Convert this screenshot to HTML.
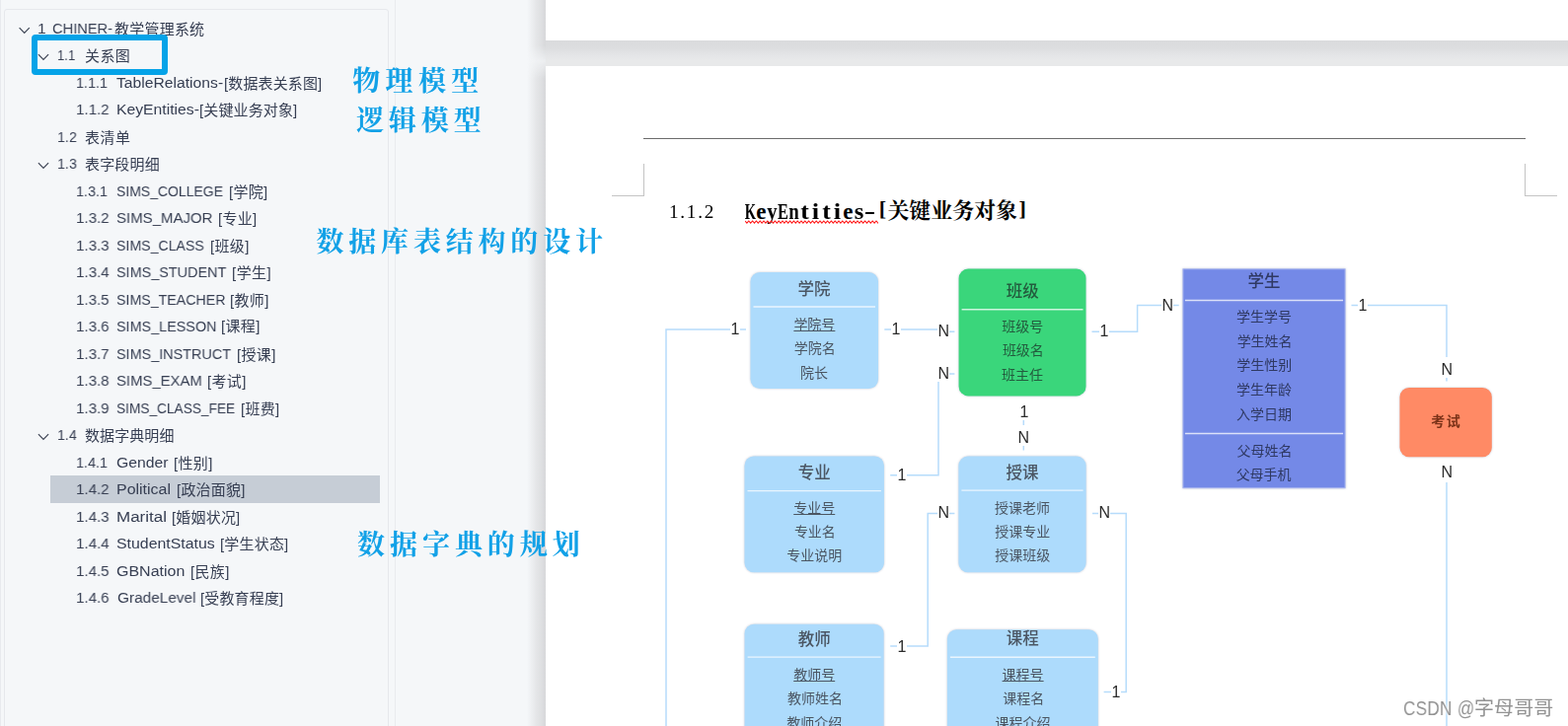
<!DOCTYPE html>
<html lang="zh-CN">
<head>
<meta charset="utf-8">
<title>CHINER-教学管理系统</title>
<style>
html,body{margin:0;padding:0;}
body{width:1589px;height:736px;overflow:hidden;position:relative;background:#f5f7f9;font-family:"Liberation Sans","Noto Sans CJK SC",sans-serif;}
.abs{position:absolute;}
/* left navigation panel */
#navline1{left:0;top:0;width:1px;height:736px;background:#e8eaee;}
#navbox{left:4px;top:9px;width:390px;height:740px;border:1px solid #e6e8ec;border-radius:3px;box-sizing:border-box;}
#navline2{left:400px;top:0;width:1px;height:736px;background:#e9ebee;}
.tx{position:absolute;height:40px;line-height:40px;font-size:15.5px;color:#363e52;white-space:pre;}
.tx{transform-origin:0 50%;will-change:transform;}
.tx.c{font-size:15px;}
#sel{left:51px;top:482px;width:334px;height:28px;background:#c6cdd6;}
#bluebox{left:32px;top:35px;width:138px;height:41px;border:6px solid #05a3e8;border-radius:4px;box-sizing:border-box;}
.note{position:absolute;color:#12a1e7;font-family:"Liberation Serif","Noto Serif CJK SC",serif;font-weight:700;font-size:28px;line-height:40px;height:40px;white-space:pre;z-index:20;}
/* document */
#shadow{left:534px;top:0;width:19px;height:736px;background:linear-gradient(to right,rgba(215,216,218,0),rgba(215,216,218,.5) 45%,rgba(215,216,218,1));-webkit-mask-image:linear-gradient(to bottom,#000 0,#000 46px,rgba(0,0,0,.3) 62px,#000 80px,#000 100%);mask-image:linear-gradient(to bottom,#000 0,#000 46px,rgba(0,0,0,.3) 62px,#000 80px,#000 100%);}
#gap{left:553px;top:41px;width:1036px;height:26px;background:linear-gradient(to bottom,#dadbdd 0,#dcdddf 28%,#e5e6e8 62%,#e8e9ea 80%,#e8e9ea 100%);}
#page1{left:553px;top:0;width:1036px;height:41px;background:#fff;}
#page2{left:553px;top:67px;width:1036px;height:669px;background:#fff;}
#hline{left:652px;top:140px;width:894px;height:1px;background:#6b6b6b;}
.crop{position:absolute;background:#c4c4c4;}
.hd{position:absolute;height:40px;line-height:40px;white-space:pre;color:#000;}
.hn{font:400 19.2px "Liberation Serif",serif;will-change:transform;}
.hl{font:700 22px "Liberation Serif",serif;}
.hc{font:700 22px "Liberation Serif","Noto Serif CJK SC",serif;}
.hd.hn,.hd.hl,.hd.hc,.hd.hm{line-height:40px;}
.hd.hm{font-size:23px;}
.hm i{display:inline-flex;justify-content:center;width:11px;font-style:normal;}
#wavy{left:755px;top:222.5px;}
/* diagram */
.et,.ef,.ek{position:absolute;z-index:5;line-height:40px;height:40px;white-space:pre;color:#4b5663;font:400 14px "Liberation Sans","Noto Sans CJK SC",sans-serif;line-height:40px;}
.et{font-size:16.5px;font-weight:500;}
#etext{position:absolute;left:0;top:0;width:1589px;height:736px;z-index:5;will-change:transform;}
.ek{font-size:14px;font-weight:700;letter-spacing:1.4px;}
.u{text-decoration:underline;}
.g{color:#235c3e;}
.p{color:#2f3963;}
.o{color:#7a3218;}
.lbl{position:absolute;z-index:6;font:16px "Liberation Sans",sans-serif;line-height:16px;height:16px;color:#2b2b2b;background:#fff;padding:5px 0.4px 0;white-space:pre;will-change:transform;}
.wm{position:absolute;font:20px "Liberation Sans","Noto Sans CJK SC",sans-serif;line-height:40px;height:40px;color:#939393;white-space:pre;text-shadow:0 0 2px #fff,0 0 2px #fff,0 0 3px #fff;z-index:30;will-change:transform;}
.wl{font-size:19.7px;transform:scaleX(.87);transform-origin:0 50%;}
</style>
</head>
<body>
<div class="abs" id="navline1"></div>
<div class="abs" id="navbox"></div>
<div class="abs" id="navline2"></div>
<div class="abs" id="sel"></div>
<div id="tree">
<div id="t0" class="tx" style="left:37.74px;top:8.9px">1</div>
<div id="t1" class="tx" style="left:52.54px;top:8.9px;transform:scaleX(0.943)">CHINER-</div>
<div id="t2" class="tx c" style="left:115.55px;top:9.6px;letter-spacing:0.22px">教学管理系统</div>
<div id="t3" class="tx" style="left:57.73px;top:36.3px;transform:scaleX(0.844)">1.1</div>
<div id="t4" class="tx c" style="left:86.03px;top:36.6px;letter-spacing:0.39px">关系图</div>
<div id="t5" class="tx" style="left:77.25px;top:64.3px;transform:scaleX(0.928)">1.1.1</div>
<div id="t6" class="tx" style="left:118px;top:64.3px;transform:scaleX(1.012)">TableRelations-</div>
<div id="t7" class="tx c" style="left:226.95px;top:64.65px;letter-spacing:0.13px">[数据表关系图]</div>
<div id="t8" class="tx" style="left:77.13px;top:91.3px;transform:scaleX(0.977)">1.1.2</div>
<div id="t9" class="tx" style="left:117.96px;top:91.3px;transform:scaleX(1.015)">KeyEntities-</div>
<div id="t10" class="tx c" style="left:202.45px;top:92.04px;letter-spacing:0.12px">[关键业务对象]</div>
<div id="t11" class="tx" style="left:57.76px;top:119.3px;transform:scaleX(0.923)">1.2</div>
<div id="t12" class="tx c" style="left:85.76px;top:119.6px;letter-spacing:0.46px">表清单</div>
<div id="t13" class="tx" style="left:58.02px;top:146.3px;transform:scaleX(0.922)">1.3</div>
<div id="t14" class="tx c" style="left:85.89px;top:146.6px;letter-spacing:0.18px">表字段明细</div>
<div id="t15" class="tx" style="left:77.25px;top:174.3px;transform:scaleX(0.928)">1.3.1</div>
<div id="t16" class="tx" style="left:118.13px;top:174.3px;transform:scaleX(0.902)">SIMS_COLLEGE</div>
<div id="t17" class="tx c" style="left:231.7px;top:175px;letter-spacing:0.26px">[学院]</div>
<div id="t18" class="tx" style="left:77.13px;top:201.3px;transform:scaleX(0.977)">1.3.2</div>
<div id="t19" class="tx" style="left:118.14px;top:201.3px;transform:scaleX(0.967)">SIMS_MAJOR</div>
<div id="t20" class="tx c" style="left:220.77px;top:201.74px;letter-spacing:0.26px">[专业]</div>
<div id="t21" class="tx" style="left:77.13px;top:229.3px;transform:scaleX(0.978)">1.3.3</div>
<div id="t22" class="tx" style="left:118.13px;top:229.3px;transform:scaleX(0.912)">SIMS_CLASS</div>
<div id="t23" class="tx c" style="left:212.85px;top:229.74px;letter-spacing:0.33px">[班级]</div>
<div id="t24" class="tx" style="left:76.73px;top:256.3px;transform:scaleX(0.979)">1.3.4</div>
<div id="t25" class="tx" style="left:118.13px;top:256.3px;transform:scaleX(0.93)">SIMS_STUDENT</div>
<div id="t26" class="tx c" style="left:235.35px;top:256.76px;letter-spacing:0.47px">[学生]</div>
<div id="t27" class="tx" style="left:77.25px;top:283.9px;transform:scaleX(0.976)">1.3.5</div>
<div id="t28" class="tx" style="left:118.13px;top:283.9px;transform:scaleX(0.916)">SIMS_TEACHER</div>
<div id="t29" class="tx c" style="left:233.25px;top:284.68px;letter-spacing:0.33px">[教师]</div>
<div id="t30" class="tx" style="left:77.13px;top:311.3px;transform:scaleX(0.977)">1.3.6</div>
<div id="t31" class="tx" style="left:118.13px;top:311.3px;transform:scaleX(0.927)">SIMS_LESSON</div>
<div id="t32" class="tx c" style="left:223.85px;top:310.88px;letter-spacing:0.33px">[课程]</div>
<div id="t33" class="tx" style="left:77.25px;top:338.9px;transform:scaleX(0.977)">1.3.7</div>
<div id="t34" class="tx" style="left:118.13px;top:338.9px;transform:scaleX(0.929)">SIMS_INSTRUCT</div>
<div id="t35" class="tx c" style="left:239.85px;top:339.75px;letter-spacing:0.33px">[授课]</div>
<div id="t36" class="tx" style="left:77.13px;top:366.3px;transform:scaleX(0.977)">1.3.8</div>
<div id="t37" class="tx" style="left:118.14px;top:366.3px;transform:scaleX(0.96)">SIMS_EXAM</div>
<div id="t38" class="tx c" style="left:209.55px;top:366.61px;letter-spacing:0.33px">[考试]</div>
<div id="t39" class="tx" style="left:77.13px;top:394.3px;transform:scaleX(0.977)">1.3.9</div>
<div id="t40" class="tx" style="left:118.17px;top:394.3px;transform:scaleX(0.883)">SIMS_CLASS_FEE</div>
<div id="t41" class="tx c" style="left:244.2px;top:394.83px;letter-spacing:0.26px">[班费]</div>
<div id="t42" class="tx" style="left:57.76px;top:421.3px;transform:scaleX(0.917)">1.4</div>
<div id="t43" class="tx c" style="left:85.5px;top:421.6px;letter-spacing:0.09px">数据字典明细</div>
<div id="t44" class="tx" style="left:77.25px;top:449.3px;transform:scaleX(0.928)">1.4.1</div>
<div id="t45" class="tx" style="left:118.39px;top:449.3px;transform:scaleX(1.017)">Gender</div>
<div id="t46" class="tx c" style="left:175.77px;top:449.67px;letter-spacing:0.33px">[性别]</div>
<div id="t47" class="tx" style="left:77.13px;top:476.3px;transform:scaleX(0.977)">1.4.2</div>
<div id="t48" class="tx" style="left:118.28px;top:476.3px;transform:scaleX(1.029)">Political</div>
<div id="t49" class="tx c" style="left:178.95px;top:476.89px;letter-spacing:0.22px">[政治面貌]</div>
<div id="t50" class="tx" style="left:77.13px;top:504.3px;transform:scaleX(0.978)">1.4.3</div>
<div id="t51" class="tx" style="left:118.49px;top:504.3px;transform:scaleX(1.095)">Marital</div>
<div id="t52" class="tx c" style="left:173.95px;top:504.94px;letter-spacing:0.18px">[婚姻状况]</div>
<div id="t53" class="tx" style="left:76.73px;top:531.3px;transform:scaleX(0.979)">1.4.4</div>
<div id="t54" class="tx" style="left:117.86px;top:531.3px;transform:scaleX(1.024)">StudentStatus</div>
<div id="t55" class="tx c" style="left:223.05px;top:531.73px;letter-spacing:0.18px">[学生状态]</div>
<div id="t56" class="tx" style="left:77.13px;top:559.3px;transform:scaleX(0.976)">1.4.5</div>
<div id="t57" class="tx" style="left:117.53px;top:559.3px;transform:scaleX(1.032)">GBNation</div>
<div id="t58" class="tx c" style="left:192.55px;top:559.65px;letter-spacing:0.33px">[民族]</div>
<div id="t59" class="tx" style="left:77.13px;top:586.3px;transform:scaleX(0.977)">1.4.6</div>
<div id="t60" class="tx" style="left:118.96px;top:586.3px;transform:scaleX(0.992)">GradeLevel</div>
<div id="t61" class="tx c" style="left:202.7px;top:586.91px;letter-spacing:0.15px">[受教育程度]</div>
<svg class="abs" style="left:0;top:0" width="400" height="736" viewBox="0 0 400 736"><path d="M19.6 28.1 l5.1 5.4 l5.1 -5.4 M38.9 55.1 l5.1 5.4 l5.1 -5.4 M38.9 165.1 l5.1 5.4 l5.1 -5.4 M38.9 440.1 l5.1 5.4 l5.1 -5.4" fill="none" stroke="#3f4656" stroke-width="1.2"/></svg>
</div>
<div class="abs" id="bluebox"></div>

<div class="abs" id="shadow"></div>
<div class="abs" id="page1"></div>
<div class="abs" id="gap"></div>
<div class="abs" id="page2"></div>
<div class="abs" id="hline"></div>
<div class="crop" style="left:652px;top:166px;width:1px;height:33px"></div>
<div class="crop" style="left:620px;top:198px;width:33px;height:1px"></div>
<div class="crop" style="left:1545px;top:166px;width:1px;height:33px"></div>
<div class="crop" style="left:1545px;top:198px;width:33px;height:1px"></div>
<div id="heading">
<div id="t66" class="hd hn" style="left:677.61px;top:194.67px;letter-spacing:1.72px">1.1.2</div>
<div id="t67" class="hd hl hm" style="left:754.97px;top:194.58px"><i style="transform:scaleX(0.63)">K</i><i>e</i><i style="transform:scaleX(0.9)">y</i><i style="transform:scaleX(0.71)">E</i><i style="transform:scaleX(0.82)">n</i><i style="transform:scaleX(1.12)">t</i><i style="transform:scaleX(1.15)">i</i><i style="transform:scaleX(1.12)">t</i><i style="transform:scaleX(1.15)">i</i><i>e</i><i style="transform:scaleX(1.07)">s</i><i style="transform:scaleX(1.5)">-</i></div>
<div id="t68" class="hd hl" style="left:890.79px;top:192.19px">[</div>
<div id="t69" class="hd hc" style="left:899.45px;top:194.14px;letter-spacing:-0.1px">关键业务对象</div>
<div id="t70" class="hd hl" style="left:1032.53px;top:192.33px">]</div>
<svg class="abs" id="wavy" width="135" height="5" viewBox="0 0 135 5"><path d="M0 1 l1.9 2.2 l1.9 -2.2 l1.9 2.2 l1.9 -2.2 l1.9 2.2 l1.9 -2.2 l1.9 2.2 l1.9 -2.2 l1.9 2.2 l1.9 -2.2 l1.9 2.2 l1.9 -2.2 l1.9 2.2 l1.9 -2.2 l1.9 2.2 l1.9 -2.2 l1.9 2.2 l1.9 -2.2 l1.9 2.2 l1.9 -2.2 l1.9 2.2 l1.9 -2.2 l1.9 2.2 l1.9 -2.2 l1.9 2.2 l1.9 -2.2 l1.9 2.2 l1.9 -2.2 l1.9 2.2 l1.9 -2.2 l1.9 2.2 l1.9 -2.2 l1.9 2.2 l1.9 -2.2 l1.9 2.2 l1.9 -2.2 l1.9 2.2 l1.9 -2.2 l1.9 2.2 l1.9 -2.2 l1.9 2.2 l1.9 -2.2 l1.9 2.2 l1.9 -2.2 l1.9 2.2 l1.9 -2.2 l1.9 2.2 l1.9 -2.2 l1.9 2.2 l1.9 -2.2 l1.9 2.2 l1.9 -2.2 l1.9 2.2 l1.9 -2.2 l1.9 2.2 l1.9 -2.2 l1.9 2.2 l1.9 -2.2 l1.9 2.2 l1.9 -2.2 l1.9 2.2 l1.9 -2.2 l1.9 2.2 l1.9 -2.2 l1.9 2.2 l1.9 -2.2 l1.9 2.2 l1.9 -2.2 l1.9 2.2 l1.9 -2.2 l1.9 2.2 l1.9 -2.2" fill="none" stroke="#ff1a1a" stroke-width="1.1"/></svg>
</div>

<div id="diagram">
<svg class="abs" style="left:553px;top:67px;z-index:2" width="1036" height="669" viewBox="553 67 1036 669">
<g fill="none" stroke="#b6dcfb" stroke-width="1.5">
<path d="M756 334 H675 V736"/>
<path d="M896.3 334 H951 V336.3 H967.4"/>
<path d="M967.4 379 H951 V481.7 H902.2"/>
<path d="M1106.5 336.3 H1152.6 V309.4 H1194.7"/>
<path d="M1369.5 309.5 H1466 V386.5"/>
<path d="M1466 489 V736"/>
<path d="M1037.3 408 V456.5"/>
<path d="M967.4 520.4 H940.2 V655.1 H902.2"/>
<path d="M1107 520.4 H1141.2 V701.6 H1118.6"/>
</g>
<g style="filter:blur(.45px) drop-shadow(0 0 1px rgba(90,100,135,.35))">
<rect x="760.5" y="276" width="129.5" height="118" rx="9.5" fill="#addbfc"/>
<rect x="971.6" y="272.6" width="128.9" height="128.8" rx="9.5" fill="#3ad67b"/>
<rect x="1198.9" y="272.8" width="164.2" height="221.9" fill="#7489e7" stroke="#a9b6f1" stroke-width="1"/>
<rect x="1418.5" y="392.9" width="93.3" height="70.3" rx="9.5" fill="#ff8a65"/>
<rect x="754.5" y="462.4" width="141.4" height="117.8" rx="9.5" fill="#addbfc"/>
<rect x="971.4" y="462.6" width="129.2" height="117.6" rx="9.5" fill="#addbfc"/>
<rect x="754.6" y="632.7" width="141" height="119.3" rx="9.5" fill="#addbfc"/>
<rect x="959.9" y="638.3" width="152.9" height="119.7" rx="9.5" fill="#addbfc"/>
</g>
<path d="M763.5 311 H887 M974.6 313.7 H1097.5 M1200.9 304.5 H1361.1 M1200.9 439.5 H1361.1 M757.5 497.6 H892.9 M974.4 497.1 H1097.6 M757.6 666.1 H892.6 M962.9 666.2 H1109.8" fill="none" stroke="#fff" stroke-opacity=".75" stroke-width="1.4"/>
</svg>
<div id="etext">
<div id="t73" class="et" style="left:808.55px;top:273.03px">学院</div>
<div id="t74" class="ef u" style="left:804.39px;top:308.9px">学院号</div>
<div id="t75" class="ef" style="left:804.77px;top:332.9px">学院名</div>
<div id="t76" class="ef" style="left:811.09px;top:357.8px">院长</div>
<div id="t77" class="et g" style="left:1019.8px;top:274.95px">班级</div>
<div id="t78" class="ef g" style="left:1015.37px;top:310.9px">班级号</div>
<div id="t79" class="ef g" style="left:1015.89px;top:335.1px">班级名</div>
<div id="t80" class="ef g" style="left:1015.09px;top:360.2px">班主任</div>
<div id="t81" class="et p" style="left:1264.44px;top:264.6px">学生</div>
<div id="t82" class="ef p" style="left:1253.05px;top:300.95px">学生学号</div>
<div id="t83" class="ef p" style="left:1253.63px;top:325.9px">学生姓名</div>
<div id="t84" class="ef p" style="left:1253.24px;top:350.39px">学生性别</div>
<div id="t85" class="ef p" style="left:1252.92px;top:375.2px">学生年龄</div>
<div id="t86" class="ef p" style="left:1253.04px;top:399.69px">入学日期</div>
<div id="t87" class="ef p" style="left:1253.54px;top:436.66px">父母姓名</div>
<div id="t88" class="ef p" style="left:1252.64px;top:460.8px">父母手机</div>
<div id="t89" class="ek o" style="left:1450.35px;top:407.4px">考试</div>
<div id="t90" class="et" style="left:808.67px;top:458.78px">专业</div>
<div id="t91" class="ef u" style="left:804.23px;top:495.09px">专业号</div>
<div id="t92" class="ef" style="left:804.89px;top:519.04px">专业名</div>
<div id="t93" class="ef" style="left:797.29px;top:542.94px">专业说明</div>
<div id="t94" class="et" style="left:1019.61px;top:458.5px">授课</div>
<div id="t95" class="ef" style="left:1007.95px;top:495.1px">授课老师</div>
<div id="t96" class="ef" style="left:1008.24px;top:519.1px">授课专业</div>
<div id="t97" class="ef" style="left:1008.29px;top:543.3px">授课班级</div>
<div id="t98" class="et" style="left:808.71px;top:627.85px">教师</div>
<div id="t99" class="ef u" style="left:804.2px;top:664.1px">教师号</div>
<div id="t100" class="ef" style="left:798.04px;top:688.1px">教师姓名</div>
<div id="t101" class="ef" style="left:797.31px;top:712.8px">教师介绍</div>
<div id="t102" class="et" style="left:1019.76px;top:627.39px">课程</div>
<div id="t103" class="ef u" style="left:1015.6px;top:663.6px">课程号</div>
<div id="t104" class="ef" style="left:1016.21px;top:688px">课程名</div>
<div id="t105" class="ef" style="left:1008.52px;top:712.65px">课程介绍</div>
</div>
<div id="t106" class="lbl" style="left:739.93px;top:320.99px">1</div>
<div id="t107" class="lbl" style="left:902.93px;top:320.99px">1</div>
<div id="t108" class="lbl" style="left:949.84px;top:323px">N</div>
<div id="t109" class="lbl" style="left:949.84px;top:366px">N</div>
<div id="t110" class="lbl" style="left:1113.93px;top:322.99px">1</div>
<div id="t111" class="lbl" style="left:1176.84px;top:297px">N</div>
<div id="t112" class="lbl" style="left:1375.93px;top:296.99px">1</div>
<div id="t113" class="lbl" style="left:1459.84px;top:362px">N</div>
<div id="t114" class="lbl" style="left:1459.84px;top:466px">N</div>
<div id="t115" class="lbl" style="left:1032.86px;top:404.99px">1</div>
<div id="t116" class="lbl" style="left:1031.24px;top:431px">N</div>
<div id="t117" class="lbl" style="left:908.93px;top:468.99px">1</div>
<div id="t118" class="lbl" style="left:949.84px;top:507px">N</div>
<div id="t119" class="lbl" style="left:1112.84px;top:507px">N</div>
<div id="t120" class="lbl" style="left:908.93px;top:642.99px">1</div>
<div id="t121" class="lbl" style="left:1125.53px;top:688.99px">1</div>
</div>

<div id="t62" class="note" style="left:357.28px;top:62.92px;letter-spacing:5.33px">物理模型</div>
<div id="t63" class="note" style="left:361.12px;top:102.52px;letter-spacing:4.85px">逻辑模型</div>
<div id="t64" class="note" style="left:320.48px;top:226.35px;letter-spacing:4.81px">数据库表结构的设计</div>
<div id="t65" class="note" style="left:362.01px;top:532.83px;letter-spacing:4.96px">数据字典的规划</div>
<div id="t71" class="wm wl" style="left:1422.05px;top:697.95px;letter-spacing:0.35px">CSDN @</div>
<div id="t72" class="wm" style="left:1493.61px;top:698.36px;letter-spacing:0.07px">字母哥哥</div>
</body>
</html>
